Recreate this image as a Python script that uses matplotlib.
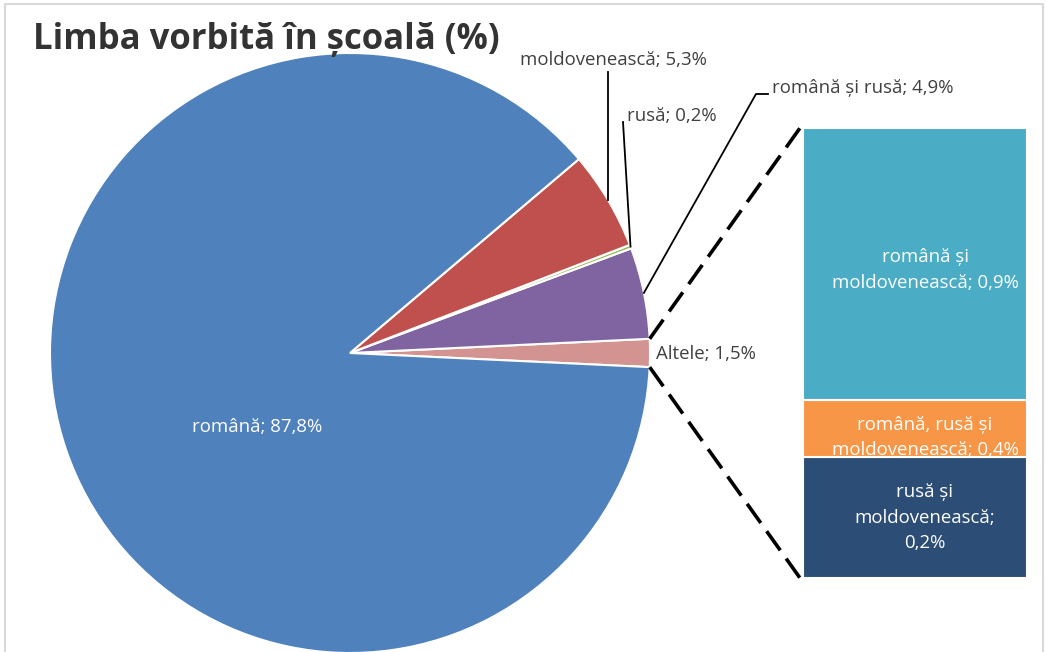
import matplotlib.pyplot as plt
from matplotlib.patches import Rectangle
import numpy as np

W, H = 1046, 652

# pie slices, counterclockwise starting from the split-off slice
PIE_LABELS = ["Altele", "română și rusă", "rusă", "moldovenească", "română"]
PIE_VALUES = [1.5, 4.9, 0.2, 5.3, 87.8]
PIE_TEXT = ["Altele; 1,5%", "română și rusă; 4,9%", "rusă; 0,2%",
            "moldovenească; 5,3%", "română; 87,8%"]
PIE_COLORS = ["#D39391", "#8064A2", "#9BBB59", "#C0504D", "#4F81BD"]

# secondary bar, bottom to top (heights as drawn)
BAR_LABELS = ["rusă și moldovenească", "română, rusă și moldovenească",
              "română și moldovenească"]
BAR_VALUES = [0.4, 0.19, 0.9]
BAR_TEXT = ["rusă și\nmoldovenească;\n0,2%",
            "română, rusă și\nmoldovenească; 0,4%",
            "română și\nmoldovenească; 0,9%"]
BAR_COLORS = ["#2C4D75", "#F79646", "#4BACC6"]
BAR_TEXT_SHIFT = [0, -9, -6]  # px, Excel puts the text a little low

TEXT_COLOR = "#404040"
FONT = "Open Sans"
FS = 13.4


def py(y):
    # pixel row (from top) -> data y
    return H - y


fig = plt.figure(figsize=(W / 100, H / 100), dpi=100)
ax = fig.add_axes([0, 0, 1, 1])

cx, cy, r = 350, py(353), 300
start = -PIE_VALUES[0] / 100 * 360 / 2
wedges, _ = ax.pie(PIE_VALUES, colors=PIE_COLORS, startangle=start,
                   counterclock=True, center=(cx, cy), radius=r,
                   wedgeprops=dict(edgecolor="white", linewidth=1.5))

ax.set_xlim(0, W)
ax.set_ylim(0, H)
ax.set_aspect("equal")
ax.axis("off")


def mid_point(w, rad):
    a = np.deg2rad((w.theta1 + w.theta2) / 2)
    return cx + rad * np.cos(a), cy + rad * np.sin(a)


# pie labels
ax.text(656, py(354), PIE_TEXT[0], fontsize=FS, color=TEXT_COLOR,
        family=FONT, ha="left", va="center")

x0, y0 = mid_point(wedges[1], r)
ax.plot([x0, 756, 768], [y0, py(94), py(94)], color="black", lw=1.3)
ax.text(772, py(88), PIE_TEXT[1], fontsize=FS, color=TEXT_COLOR,
        family=FONT, ha="left", va="center")

x0, y0 = mid_point(wedges[2], r)
ax.plot([x0, 623], [y0, py(122)], color="black", lw=1.3)
ax.text(627, py(116), PIE_TEXT[2], fontsize=FS, color=TEXT_COLOR,
        family=FONT, ha="left", va="center")

x0, y0 = mid_point(wedges[3], r)
ax.plot([x0, x0], [y0, py(72)], color="black", lw=1.3)
ax.text(613, py(60), PIE_TEXT[3], fontsize=FS, color=TEXT_COLOR,
        family=FONT, ha="center", va="center")

ax.text(257, py(427), PIE_TEXT[4], fontsize=FS, color="white",
        family=FONT, ha="center", va="center")

# secondary stacked bar
bar_x, bar_w, bar_bottom = 803, 224, py(578)
scale = (578 - 128) / sum(BAR_VALUES)
bottom = bar_bottom
for val, col, txt, dy in zip(BAR_VALUES, BAR_COLORS, BAR_TEXT, BAR_TEXT_SHIFT):
    h = val * scale
    bars = ax.bar(bar_x, h, width=bar_w, bottom=bottom, align="edge",
                  color=col, edgecolor="white", linewidth=1.5)
    t = ax.text(bar_x + bar_w / 2 + 10, bottom + h / 2 + dy, txt, fontsize=FS,
                color="white", family=FONT, ha="center", va="center",
                linespacing=1.55)
    t.set_clip_path(bars[0])
    bottom += h

# dashed connectors from the split slice to the bar
a1 = np.deg2rad(wedges[0].theta2)
a2 = np.deg2rad(wedges[0].theta1)
ax.plot([cx + r * np.cos(a1), bar_x - 3], [cy + r * np.sin(a1), py(128)],
        color="black", lw=2.6, dashes=(6.5, 2.8))
ax.plot([cx + r * np.cos(a2), bar_x - 3], [cy + r * np.sin(a2), py(578)],
        color="black", lw=2.6, dashes=(6.5, 2.8))

# chart frame
ax.add_patch(Rectangle((5, -10), W - 5 - 3, py(4) + 10, fill=False,
                       edgecolor="#D9D9D9", lw=1.5))

ax.text(33, py(40), "Limba vorbită în școală (%)", fontsize=25,
        fontweight="bold", color="#333333", family=FONT,
        ha="left", va="center")

fig.savefig("out.png", dpi=100)
